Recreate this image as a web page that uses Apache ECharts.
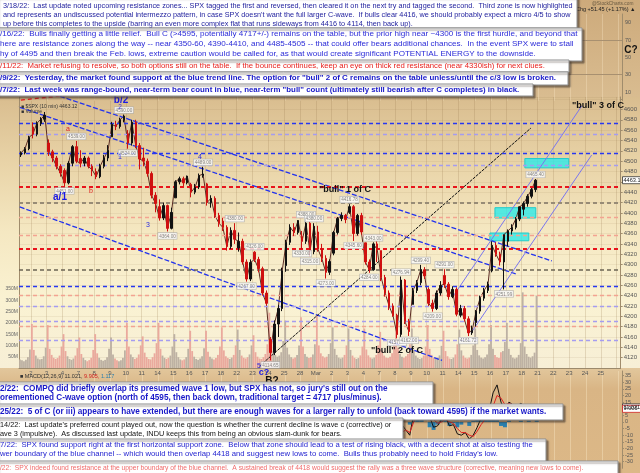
<!DOCTYPE html>
<html>
<head>
<meta charset="utf-8">
<script src="https://cdn.jsdelivr.net/npm/echarts/dist/echarts.min.js"></script>
<style>
  html, body { margin: 0; padding: 0; background: #fff; }
  #c { width: 640px; height: 473px; }
</style>
</head>
<body>
<div id="c"></div>
<script>
// ---------- trading sessions on the axis (Feb 1 is only partly shown) ----------
const dayLabels = ['1','2','3','4','7','8','9','10','11','14','15','16','17','18','22','23','24','25','28',
  'Mar','2','3','4','7','8','9','10','11','14','15','16','17','18','21','22','23','24','25','28'];

// ---------- SPX 10-min, condensed to quarter-session candles [open, close, low, high] ----------
const candles = [
  // Feb 1 (afternoon)
  [4512,4516,4508,4519],[4516,4524,4513,4527],[4524,4546,4521,4549],
  // Feb 2
  [4566,4552,4544,4575],[4552,4573,4548,4577],[4573,4581,4568,4585],[4581,4589,4576,4595],
  // Feb 3
  [4535,4518,4510,4542],[4518,4506,4498,4522],[4506,4490,4484,4510],[4490,4477,4470,4494],
  // Feb 4
  [4482,4458,4451,4486],[4458,4496,4455,4500],[4496,4528,4490,4531],[4528,4500,4496,4539],
  // Feb 7
  [4505,4496,4488,4521],[4496,4506,4490,4510],[4506,4490,4486,4509],[4490,4483,4471,4494],
  // Feb 8
  [4480,4470,4465,4486],[4470,4490,4467,4495],[4490,4506,4486,4512],[4506,4521,4500,4531],
  // Feb 9
  [4547,4571,4547,4576],[4571,4567,4560,4578],[4567,4580,4563,4584],[4580,4587,4575,4590],
  // Feb 10
  [4553,4535,4524,4560],[4535,4575,4530,4580],[4575,4530,4525,4580],[4530,4504,4484,4535],
  // Feb 11
  [4506,4500,4490,4526],[4500,4476,4470,4505],[4476,4434,4428,4480],[4434,4418,4401,4440],
  // Feb 14
  [4412,4390,4385,4426],[4390,4414,4386,4420],[4414,4370,4364,4416],[4370,4401,4368,4410],
  // Feb 15
  [4429,4460,4429,4463],[4460,4466,4455,4470],[4466,4458,4452,4470],[4458,4471,4455,4472],
  // Feb 16
  [4455,4440,4430,4458],[4440,4450,4436,4456],[4450,4472,4446,4476],[4472,4475,4468,4489],
  // Feb 17
  [4456,4420,4414,4458],[4420,4428,4410,4434],[4428,4395,4390,4432],[4395,4380,4373,4400],
  // Feb 18
  [4384,4372,4365,4390],[4372,4335,4327,4376],[4335,4366,4330,4372],[4366,4349,4340,4380],
  // Feb 22
  [4332,4345,4325,4362],[4345,4305,4300,4350],[4305,4272,4267,4310],[4272,4304,4268,4310],
  // Feb 23
  [4324,4310,4305,4326],[4310,4292,4285,4315],[4292,4245,4240,4296],[4245,4225,4221,4250],
  // Feb 24
  [4155,4130,4114.65,4160],[4130,4185,4125,4192],[4185,4215,4160,4222],[4215,4288,4210,4294],
  // Feb 25
  [4298,4343,4286,4348],[4343,4372,4338,4378],[4372,4362,4355,4380],[4362,4385,4358,4386],
  // Feb 28
  [4354,4345,4330,4365],[4345,4380,4340,4388],[4380,4325,4315,4384],[4325,4374,4320,4380],
  // Mar 1
  [4363,4330,4325,4375],[4330,4312,4305,4340],[4312,4285,4273,4318],[4285,4306,4280,4310],
  // Mar 2
  [4322,4362,4318,4365],[4362,4389,4358,4392],[4389,4395,4384,4401],[4395,4387,4380,4398],
  // Mar 3
  [4401,4412,4398,4416.78],[4412,4360,4345.6,4415],[4360,4395,4356,4398],[4395,4363,4358,4400],
  // Mar 4
  [4342,4305,4300,4342],[4305,4290,4284,4310],[4290,4340,4288,4343],[4340,4329,4305,4345],
  // Mar 7
  [4327,4275,4268,4327],[4275,4245,4238,4280],[4245,4220,4212,4250],[4220,4201,4199,4225],
  // Mar 8
  [4202,4165,4157.87,4205],[4165,4270,4160,4276.94],[4270,4190,4185,4272],[4190,4170.7,4162,4195],
  // Mar 9
  [4223,4250,4223,4255],[4250,4265,4245,4270],[4265,4290,4260,4299.4],[4290,4278,4272,4295],
  // Mar 10
  [4252,4225,4220,4256],[4225,4215,4209,4232],[4215,4245,4212,4250],[4245,4259.5,4240,4268],
  // Mar 11
  [4279,4262,4255,4291],[4262,4238,4232,4266],[4238,4252,4235,4258],[4252,4204,4200,4256],
  // Mar 14
  [4202,4215,4198,4222],[4215,4195,4190,4220],[4195,4168,4161.72,4200],[4168,4173,4164,4182],
  // Mar 15
  [4188,4210,4180,4212],[4210,4235,4205,4240],[4235,4250,4230,4255],[4250,4262,4245,4267],
  // Mar 16
  [4288,4337,4285,4345],[4337,4320,4315,4343],[4320,4305,4298,4325],[4305,4357.86,4251.99,4357.86],
  // Mar 17
  [4345,4365,4335,4368],[4365,4372,4358,4378],[4372,4388,4368,4392],[4388,4411.67,4384,4412],
  // Mar 18
  [4407,4418,4395,4422],[4418,4432,4412,4436],[4432,4445,4428,4448],[4445,4463.12,4440,4465.4]
];

// ---------- volume, eighth-session bars (millions) ----------
const volume = [
  38,34,30,36,48,82,                 // Feb 1 (afternoon)
  195,80,55,42,38,40,52,90,          // Feb 2
  190,85,58,45,40,44,55,95,          // Feb 3
  150,75,52,40,36,42,55,88,          // Feb 4
  135,62,45,35,30,35,45,80,          // Feb 7
  150,65,45,36,32,36,48,85,          // Feb 8
  135,60,42,34,30,34,45,78,          // Feb 9
  200,95,60,48,40,45,60,100,         // Feb 10
  140,68,48,40,38,48,65,110,         // Feb 11
  200,85,55,45,40,45,55,95,          // Feb 14
  150,70,48,38,34,38,48,85,          // Feb 15
  165,75,50,40,36,42,52,88,          // Feb 16
  165,72,50,42,38,44,58,95,          // Feb 17
  180,78,52,44,40,46,58,100,         // Feb 18
  170,80,55,45,42,48,60,100,         // Feb 22
  145,70,50,42,40,48,62,105,         // Feb 23
  245,110,75,58,50,55,70,120,        // Feb 24
  210,90,60,48,42,46,58,100,         // Feb 25
  225,95,62,50,44,48,60,105,         // Feb 28
  235,100,65,52,46,50,62,110,        // Mar 1
  180,85,58,46,42,46,58,100,         // Mar 2
  175,80,55,45,40,44,56,95,          // Mar 3
  175,82,56,46,42,46,58,100,         // Mar 4
  160,78,55,46,44,50,65,110,         // Mar 7
  190,90,62,50,45,52,62,105,         // Mar 8
  175,80,55,45,40,44,55,95,          // Mar 9
  190,85,58,46,42,46,56,98,          // Mar 10
  165,75,52,42,40,46,60,105,         // Mar 11
  170,78,55,45,42,46,58,100,         // Mar 14
  175,80,56,46,42,48,60,105,         // Mar 15
  190,85,58,48,44,70,75,115,         // Mar 16
  200,85,58,46,42,46,58,110,         // Mar 17
  335,95,62,50,46,52,68,320          // Mar 18
];

// ---------- MACD(12,26,9), quarter-session values from Mar 7 ----------
const macdFirstDay = 23; // index of Mar 7 in dayLabels
const macdLine   = [-6,-9,-11,-13, -14,-2,-6,-10, 6,10,13,11, 4,-4,-3,2, 4,-3,-2,-9,
                    -10,-8,-13,-10, -4,3,6,8, 22,28,15,9, 15,13,12,14, 12,13,12,11.021];
const macdSignal = [-4,-6,-8,-10, -12,-8,-6,-8, 0,6,10,11, 8,2,-1,0, 2,0,-1,-5,
                    -8,-8,-10,-11, -7,-2,2,5, 12,20,18,13, 14,13,12,13, 12,12,12,9.905];
const macdHist   = [-2,-3,-3,-3, -2,6,0,-2, 6,4,3,0, -4,-6,-2,2, 2,-3,-1,-4,
                    -2,0,-3,1, 3,5,4,3, 10,8,-3,-4, 1,0,0,1, 0,1,0,1.117];

// ---------- horizontal support / resistance levels ----------
const levels     = [4574, 4552, 4515, 4492, 4451, 4420, 4391, 4357, 4331, 4290, 4259, 4240, 4220, 4191, 4181, 4153];
const levelKinds = ['blue','lilac','blue','lilac','red','gray','pink','pink','red','dark','blue','pink','lilac','lilac','pink','lilac'];

// ---------- trend lines: [trading-day position, price] pairs (Feb 1 = 0, Feb 2 = 1, ...) ----------
const channelUpper  = [[2.83, 4625.5], [33.90, 4307]];
const channelMiddle = [[-0.95, 4616.8], [31.63, 4282]];
const channelLower  = [[-0.95, 4425.4], [26.97, 4114.6]];
const redTrend      = [[-0.95, 4614], [3.46, 4627.8]];
const risingBlack   = [[15.44, 4103.6], [32.58, 4563.9]];
const bullLower     = [[28.80, 4167.8], [36.42, 4511.8]];
const bullUpper     = [[27.73, 4241.3], [35.79, 4606.6]];

// ---------- resistance zones: [from day, to day, low, high] ----------
const zones = [[32.20, 34.97, 4487, 4505], [30.31, 32.89, 4390, 4410], [29.99, 32.45, 4346, 4361]];

// ---------- swing labels: [day index, quarter, 'H' | 'L'] ----------
const swings = [
  [3,3,'H'],[3,0,'L'],[6,3,'H'],[7,0,'L'],[9,2,'L'],[11,3,'H'],[13,3,'H'],[14,2,'L'],[15,0,'H'],
  [16,0,'L'],[18,0,'L'],[18,1,'H'],[18,2,'L'],[18,3,'H'],[19,2,'L'],[21,0,'H'],[21,1,'L'],
  [22,1,'L'],[22,2,'H'],[24,0,'L'],[24,1,'H'],[24,3,'L'],[25,2,'H'],[26,1,'L'],[27,0,'H'],
  [28,2,'L'],[30,3,'L'],[32,3,'H']
];

// ---------- wave count annotations ----------
const waveText = [
  {t:'b/2', x:121, y:100, c:'#1a1ae6', s:10, w:'bold'},
  {t:'2', x:120, y:107, c:'#3a3ae0', s:6.5},
  {t:'a', x:68, y:129, c:'#e02020', s:7},
  {t:'a/1', x:60, y:197, c:'#1a1ae6', s:10, w:'bold'},
  {t:'b', x:91, y:191, c:'#e02020', s:7},
  {t:'1', x:120, y:157, c:'#2a2ae0', s:7},
  {t:'3', x:148, y:225, c:'#2a2ae0', s:7},
  {t:'4', x:200, y:157, c:'#2a2ae0', s:7},
  {t:'5', x:259, y:366, c:'#2a2ae0', s:7},
  {t:'c?', x:264, y:373, c:'#1a1ae6', s:9, w:'bold'},
  {t:'B?', x:272, y:381, c:'#111', s:10, w:'bold'},
  {t:'"bull" 1 of C', x:345, y:190, c:'#111', s:9, w:'bold'},
  {t:'"bull" 2 of C', x:397, y:351, c:'#111', s:9, w:'bold'},
  {t:'"bull" 3 of C', x:598, y:106, c:'#111', s:9, w:'bold'},
  {t:'C?', x:631, y:50, c:'#111', s:10, w:'bold'}
];

// ---------- commentary notes ----------
const notes = [
  ['3/18/22:  Last update noted upcoming resistance zones... SPX tagged the first and reversed, then cleared it on the next try and tagged the second.  Third zone is now highlighted',
   'and represents an undiscussed potential intermezzo pattern, in case SPX doesn\'t want the full larger C-wave.  If bulls clear 4416, we should probably expect a micro 4/5 to show',
   'up before this completes to the upside (barring an even more complex flat that runs sideways from 4416 to 4114, then back up).'],
  ['/16/22:  Bulls finally getting a little relief.  Bull C (>4595, potentially 4717+/-) remains on the table, but the prior high near ~4300 is the first hurdle, and beyond that',
   'here are resistance zones along the way -- near 4350-60, 4390-4410, and 4485-4505 -- that could offer bears additional chances.  In the event SPX were to stall',
   'hy of 4495 and then break the Feb. lows, extreme caution would be called for, as that would create significant POTENTIAL ENERGY to the downside.'],
  ['/11/22:  Market refusing to resolve, so both options still on the table.  If the bounce continues, keep an eye on thick red resistance (near 4330ish) for next clues.'],
  ['/9/22:  Yesterday, the market found support at the blue trend line. The option for "bull" 2 of C remains on the table unless/until the c/3 low is broken.'],
  ['/7/22:  Last week was range-bound, near-term bear count in blue, near-term "bull" count (ultimately still bearish after C completes) in black.'],
  ['2/22:  COMPQ did briefly overlap its presumed wave 1 low, but SPX has not, so jury\'s still out on the',
   'orementioned C-wave option (north of 4595, then back down, traditional target = 4717 plus/minus).'],
  ['25/22:  5 of C (or iii) appears to have extended, but there are enough waves for a larger rally to unfold (back toward 4595) if the market wants.'],
  ['14/22:  Last update\'s preferred count played out, now the question is whether the current decline is wave c (corrective) or',
   'ave 3 (impulsive).  As discussed last update, INDU keeps this from being an obvious slam-dunk for bears.'],
  ['7/22:  SPX found support right at the first horizontal support zone.  Below that zone should lead to a test of rising black, with a decent shot at also testing the',
   'wer boundary of the blue channel -- which would then overlap 4418 and suggest new lows to come.  Bulls thus probably need to hold Friday\'s low.'],
  ['/22:  SPX indeed found resistance at the upper boundary of the blue channel.  A sustained break of 4418 would suggest the rally was a three wave structure (corrective, meaning new lows to come).']
];

// box geometry and text styling for each note
const noteLayout = [
  {x0:-3, y0:-3,  x1:577, y1:28,  tx:3, end:574, ys:[6,15,23.5],   color:'#1c1c9c', weight:'normal'},
  {x0:-3, y0:28,  x1:582, y1:61,  tx:0, end:578, ys:[33.5,43.5,53.5], color:'#2b2bd8', weight:'normal'},
  {x0:-3, y0:60,  x1:569, y1:72,  tx:0, end:546, ys:[65.8],        color:'#e8201c', weight:'normal'},
  {x0:-3, y0:72,  x1:568, y1:85,  tx:0, end:557, ys:[78.2],        color:'#1818c8', weight:'bold'},
  {x0:-3, y0:84,  x1:533, y1:96,  tx:0, end:520, ys:[89.8],        color:'#1818c8', weight:'bold'},
  {x0:-3, y0:382, x1:433, y1:405, tx:0, end:388, ys:[388.5,397.5], color:'#1818c8', weight:'bold'},
  {x0:-3, y0:404, x1:563, y1:420, tx:0, end:547, ys:[411.8],       color:'#1818c8', weight:'bold'},
  {x0:-3, y0:418, x1:403, y1:441, tx:0, end:392, ys:[424.5,433.5], color:'#111111', weight:'normal'},
  {x0:-3, y0:439, x1:546, y1:462, tx:0, end:533, ys:[445,454],     color:'#2424d0', weight:'normal'},
  {x0:-3, y0:461, x1:618, y1:478, tx:0, end:585, ys:[468],         color:'#f06a6a', weight:'normal'}
];

// ---------- slot bookkeeping ----------
const PRICE_SLOTS = 4, VOL_SLOTS = 8;
function slotsFor(i, per) {
  if (i === 0) return per * 3 / 4;               // Feb 1: last three quarters only
  if (i === dayLabels.length - 1) return per / 4; // Mar 28: first quarter only
  return per;
}
function buildAxis(per) {
  const cats = [], starts = [], labelAt = {};
  dayLabels.forEach((lab, i) => {
    const n = slotsFor(i, per);
    starts.push(cats.length);
    for (let k = 0; k < n; k++) {
      if (k === 0 && i > 0 && i < dayLabels.length - 1) labelAt[cats.length] = lab;
      cats.push('d' + i + 's' + k);
    }
  });
  return {cats, starts, labelAt};
}
const pAx = buildAxis(PRICE_SLOTS);
const vAx = buildAxis(VOL_SLOTS);
const dayStartSet = new Set(pAx.starts.slice(1));

// candle covering a given volume bar (used for the bar colour)
function candleSlotOfVolume(j) {
  for (let i = dayLabels.length - 1; i >= 0; i--) {
    if (j >= vAx.starts[i]) {
      const within = j - vAx.starts[i];
      return pAx.starts[i] + Math.floor(within / 2);
    }
  }
  return 0;
}
const volData = volume.map((v, j) => {
  const c = candles[candleSlotOfVolume(j)];
  const up = c && c[1] >= c[0];
  return {value: v, itemStyle: {color: up ? '#bdb1a3' : '#eaa99d'}};
});

// MACD padded to the full axis
function padMacd(arr) {
  const out = new Array(pAx.cats.length).fill('-');
  const s = pAx.starts[macdFirstDay];
  arr.forEach((v, k) => { out[s + k] = v; });
  return out;
}

// swing label points drawn from candle highs/lows
const swingPoints = swings.map(([d, q, kind]) => {
  const idx = pAx.starts[d] + q;
  const c = candles[idx];
  const v = kind === 'H' ? c[3] : c[2];
  return {value: [idx, v], label: {position: kind === 'H' ? 'top' : 'bottom'}};
});

// ---------- styles ----------
const levelStyle = {
  blue:  {color:'#2838f0', width:1.3, type:[4,3]},
  lilac: {color:'#a59cf0', width:1.3, type:[4,3]},
  red:   {color:'#e8141c', width:1.8, type:[4,3]},
  gray:  {color:'#978b76', width:1.8, type:[4,3]},
  pink:  {color:'#f3a391', width:1.3, type:[4,3]},
  dark:  {color:'#6b6454', width:1.5, type:[4,3]}
};
const FONT = '"Liberation Sans", Arial, sans-serif';
const gridLineColor = 'rgba(150,118,76,0.22)';

function trend(data, color, width, type) {
  return {
    type: 'line', xAxisIndex: 1, yAxisIndex: 0, data, clip: false, silent: true,
    symbol: 'none', lineStyle: {color, width, type}, z: 4, animation: false
  };
}

// ---------- chart ----------
const chart = echarts.init(document.getElementById('c'), null, {renderer: 'canvas'});

const gridLeft = 19, gridRight = 18;
const option = {
  animation: false,
  backgroundColor: 'transparent',
  textStyle: {fontFamily: FONT},
  grid: [
    {left: gridLeft, right: gridRight, top: 97, height: 271},
    {left: gridLeft, right: gridRight, top: 371, height: 97.3},
    {left: gridLeft, right: gridRight, top: 14, height: 86.7}
  ],
  xAxis: [
    { // price session axis with date labels
      type: 'category', gridIndex: 0, data: pAx.cats, boundaryGap: true,
      axisLine: {show: true, lineStyle: {color: '#9c8a6c', width: 1}},
      axisTick: {show: false},
      axisLabel: {interval: 0, fontSize: 6, color: '#555', margin: 2, padding: [0, 4, 0, 0],
        formatter: (v, i) => pAx.labelAt[i] || ''},
      splitLine: {show: true, interval: (i) => dayStartSet.has(i), lineStyle: {color: gridLineColor, width: 1}}
    },
    { // continuous day position for annotations
      type: 'value', gridIndex: 0, min: 0.25, max: 38.25, show: false
    },
    { // volume bars
      type: 'category', gridIndex: 0, data: vAx.cats, show: false
    },
    { // MACD panel
      type: 'category', gridIndex: 1, data: pAx.cats,
      axisLine: {show: false}, axisTick: {show: false}, axisLabel: {show: false},
      splitLine: {show: true, interval: (i) => dayStartSet.has(i), lineStyle: {color: 'rgba(255,240,210,0.35)', width: 1}}
    },
    { // RSI panel
      type: 'category', gridIndex: 2, data: pAx.cats,
      axisLine: {show: false}, axisTick: {show: false}, axisLabel: {show: false},
      splitLine: {show: true, interval: (i) => dayStartSet.has(i), lineStyle: {color: 'rgba(255,240,210,0.3)', width: 1}}
    }
  ],
  yAxis: [
    {
      type: 'value', gridIndex: 0, position: 'right', min: 4100, max: 4624, interval: 20,
      axisLine: {show: true, lineStyle: {color: '#a08c6c'}},
      axisTick: {show: true, length: 2, lineStyle: {color: '#a08c6c'}},
      axisLabel: {fontSize: 6, color: '#555', margin: 3, showMinLabel: false, showMaxLabel: false,
        formatter: (v) => (v > 4100 && v <= 4600) ? String(v) : ''},
      splitLine: {show: true, lineStyle: {color: 'rgba(150,118,76,0.10)'}}
    },
    {
      type: 'value', gridIndex: 0, position: 'left', min: 0, max: 1200, interval: 50,
      axisLine: {show: true, lineStyle: {color: '#a08c6c'}},
      axisTick: {show: false},
      axisLabel: {fontSize: 5, color: '#666', margin: 1,
        formatter: (v) => (v > 0 && v <= 350) ? v + 'M' : ''},
      splitLine: {show: false}
    },
    {
      type: 'value', gridIndex: 1, position: 'right', min: -35, max: 38.5, interval: 5,
      axisLine: {show: true, lineStyle: {color: '#a08c6c'}},
      axisTick: {show: true, length: 2, lineStyle: {color: '#a08c6c'}},
      axisLabel: {fontSize: 5.5, color: '#555', margin: 3, showMinLabel: false, showMaxLabel: false},
      splitLine: {show: false}
    },
    {
      type: 'value', gridIndex: 2, position: 'right', min: 0, max: 100, interval: 10,
      axisLine: {show: true, lineStyle: {color: '#a08c6c'}},
      axisTick: {show: false},
      axisLabel: {fontSize: 5.5, color: '#555', margin: 3,
        formatter: (v) => (v % 20 === 10) ? String(v) : ''},
      splitLine: {show: false}
    }
  ],
  series: [
    { // volume
      type: 'bar', xAxisIndex: 2, yAxisIndex: 1, data: volData, barCategoryGap: '8%',
      silent: true, z: 1
    },
    { // closing trace joining the candles
      type: 'line', xAxisIndex: 0, yAxisIndex: 0, data: candles.map((c) => c[1]),
      symbol: 'none', silent: true, z: 4, lineStyle: {color: '#5b2b22', width: 1}
    },
    { // price
      type: 'candlestick', xAxisIndex: 0, yAxisIndex: 0, data: candles, barWidth: 2,
      silent: true, z: 5,
      itemStyle: {color: '#111', color0: '#cf1010', borderColor: '#111', borderColor0: '#cf1010', borderWidth: 1},
      markLine: {
        silent: true, symbol: 'none', animation: false, label: {show: false},
        data: levels.map((v, i) => ({yAxis: v, lineStyle: levelStyle[levelKinds[i]]}))
      }
    },
    { // swing value tags
      type: 'scatter', xAxisIndex: 0, yAxisIndex: 0, data: swingPoints, symbolSize: 0, silent: true, z: 6,
      label: {show: true, distance: 1.5, fontSize: 4.6, color: '#666', backgroundColor: '#fbfbfb',
        borderColor: '#aaa', borderWidth: 0.6, padding: [1, 1, 0, 1],
        formatter: (p) => p.value[1].toFixed(2)}
    },
    Object.assign(trend(channelUpper, '#2232ee', 1.3, [5, 2]), {
      markArea: {
        silent: true,
        itemStyle: {color: 'rgba(40,235,235,0.78)', borderColor: '#22cccc', borderWidth: 1},
        data: zones.map(([d0, d1, lo, hi]) => [{coord: [d0, hi]}, {coord: [d1, lo]}])
      }
    }),
    trend(channelMiddle, '#2232ee', 1.3, [5, 2]),
    trend(channelLower, '#2232ee', 1.3, [5, 2]),
    trend(redTrend, '#e8141c', 1.3, [4, 3]),
    trend(risingBlack, '#111', 1, [3, 1]),
    trend(bullLower, '#7a76ee', 1, 'solid'),
    trend(bullUpper, '#7a76ee', 1, 'solid'),
    { // MACD histogram
      type: 'bar', xAxisIndex: 3, yAxisIndex: 2, data: padMacd(macdHist), barCategoryGap: '0%',
      itemStyle: {color: '#2a7fae'}, silent: true
    },
    {
      type: 'line', xAxisIndex: 3, yAxisIndex: 2, data: padMacd(macdLine), symbol: 'none',
      lineStyle: {color: '#111', width: 1}, silent: true
    },
    {
      type: 'line', xAxisIndex: 3, yAxisIndex: 2, data: padMacd(macdSignal), symbol: 'none',
      lineStyle: {color: '#e02020', width: 1}, silent: true
    },
    { // RSI overbought/oversold guides
      type: 'line', xAxisIndex: 4, yAxisIndex: 3, data: [], silent: true,
      markLine: {
        silent: true, symbol: 'none', label: {show: false}, animation: false,
        lineStyle: {color: '#a89070', width: 1, type: 'solid'},
        data: [{yAxis: 70}, {yAxis: 30}]
      }
    }
  ]
};
chart.setOption(option);

// ---------- overlays: panel backgrounds, labels, note boxes ----------
const meas = document.createElement('canvas').getContext('2d');
function fitSize(text, weight, width) {
  meas.font = weight + ' 10px ' + FONT;
  return 10 * width / meas.measureText(text).width;
}
function vgrad(stops) {
  return {type: 'linear', x: 0, y: 0, x2: 0, y2: 1,
    colorStops: stops.map(([o, c]) => ({offset: o, color: c}))};
}

const g = [];
g.push({type: 'rect', z: -10, silent: true, shape: {x: 0, y: 0, width: 640, height: 97},
  style: {fill: vgrad([[0, '#cdaa7b'], [1, '#d9bc90']])}});
g.push({type: 'rect', z: -10, silent: true, shape: {x: 0, y: 97, width: 640, height: 271},
  style: {fill: vgrad([[0, '#d9bd8f'], [0.25, '#e9d4a8'], [0.5, '#f5e8c2'], [0.75, '#faf2d2'], [1, '#f7efd6']])}});
g.push({type: 'rect', z: -10, silent: true, shape: {x: 0, y: 368, width: 640, height: 105},
  style: {fill: vgrad([[0, '#e2c79c'], [0.2, '#d9b585'], [1, '#dcb887']])}});

// header and legends
g.push({type: 'text', z: 20, silent: true, x: 592, y: 3.5,
  style: {text: '@StockCharts.com', fontSize: 4.8, fill: '#6a5a40', fontFamily: FONT, verticalAlign: 'middle'}});
g.push({type: 'text', z: 20, silent: true, x: 576, y: 9.5,
  style: {text: 'Chg +51.45 (+1.17%) \u25B2', fontSize: 5.5, fill: '#222', fontFamily: FONT, verticalAlign: 'middle'}});

const lastClose = candles[candles.length - 1][1];
g.push({type: 'text', z: 20, silent: true, x: 21, y: 107,
  style: {text: '\u25A0 $SPX (10 min) ' + lastClose.toFixed(2), fontSize: 5, fill: '#333', fontFamily: FONT, verticalAlign: 'middle'}});
g.push({type: 'text', z: 20, silent: true, x: 21, y: 112,
  style: {text: '\u25A0 Volume', fontSize: 5, fill: '#333', fontFamily: FONT, verticalAlign: 'middle'}});

const mLast = macdLine[macdLine.length - 1], sLast = macdSignal[macdSignal.length - 1], hLast = macdHist[macdHist.length - 1];
g.push({type: 'text', z: 20, silent: true, x: 20, y: 376.5,
  style: {text: '{a|\u25A0 MACD(12,26,9) ' + mLast.toFixed(3) + ',} {b|' + sLast.toFixed(3) + ',} {c|' + hLast.toFixed(3) + '}',
    fontSize: 5.5, fontFamily: FONT, verticalAlign: 'middle',
    rich: {a: {fill: '#333', fontSize: 5.5}, b: {fill: '#d02020', fontSize: 5.5}, c: {fill: '#2a7fae', fontSize: 5.5}}}});

// wave count labels
waveText.forEach((w) => {
  g.push({type: 'text', z: 30, silent: true, x: w.x, y: w.y,
    style: {text: w.t, fill: w.c, fontSize: w.s, fontWeight: w.w || 'normal', fontFamily: FONT,
      align: 'center', verticalAlign: 'middle'}});
});

// value tags on the right axes
function axisTag(y, text, border) {
  g.push({type: 'rect', z: 40, silent: true, shape: {x: 622.5, y: y - 3.5, width: 18, height: 7},
    style: {fill: '#fff', stroke: border, lineWidth: 0.8}});
  g.push({type: 'text', z: 41, silent: true, x: 623.5, y: y,
    style: {text: text, fontSize: 5.6, fill: '#222', fontFamily: FONT, verticalAlign: 'middle'}});
}
axisTag(chart.convertToPixel({yAxisIndex: 0}, lastClose), lastClose.toFixed(2), '#333');
axisTag(chart.convertToPixel({yAxisIndex: 2}, mLast), mLast.toFixed(3), '#333');
axisTag(chart.convertToPixel({yAxisIndex: 2}, sLast), sLast.toFixed(3), '#d02020');

// note boxes
notes.forEach((lines, i) => {
  const L = noteLayout[i];
  const size = fitSize(lines[0], L.weight, L.end - L.tx);
  g.push({type: 'rect', z: 100 + i * 2, silent: true,
    shape: {x: L.x0, y: L.y0, width: L.x1 - L.x0, height: L.y1 - L.y0},
    style: {fill: '#fff', stroke: '#8e8e8e', lineWidth: 1,
      shadowBlur: 1.5, shadowOffsetX: 2, shadowOffsetY: 2, shadowColor: 'rgba(60,50,40,0.55)'}});
  lines.forEach((t, k) => {
    g.push({type: 'text', z: 101 + i * 2, silent: true, x: L.tx, y: L.ys[k],
      style: {text: t, fill: L.color, fontSize: size, fontWeight: L.weight, fontFamily: FONT,
        verticalAlign: 'middle'}});
  });
});

chart.setOption({graphic: {elements: g}});
</script>
</body>
</html>
